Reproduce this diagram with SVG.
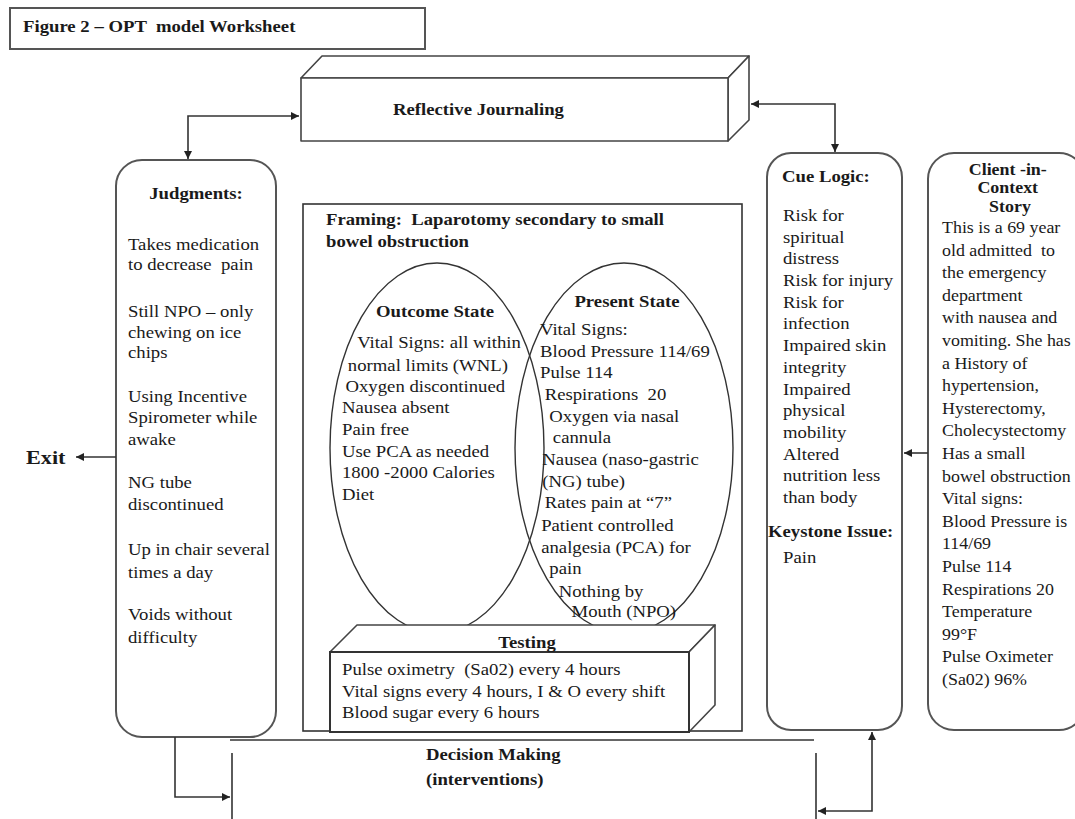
<svg xmlns="http://www.w3.org/2000/svg" width="1075" height="819" viewBox="0 0 1075 819">
<defs>
<style>
.t{font-family:"Liberation Serif","Times New Roman",serif;font-size:16px;fill:#1a1a1a}
.b{font-weight:bold}
.m{text-anchor:middle}
.box{fill:#fff;stroke:#555;stroke-width:2}
.face{fill:#fff;stroke:#444;stroke-width:1.6;stroke-linejoin:round}
.ell{fill:none;stroke:#333;stroke-width:1.4}
.ln{fill:none;stroke:#333;stroke-width:1.6}
</style>
<marker id="ah" viewBox="0 0 10 10" refX="10" refY="5" markerWidth="9" markerHeight="8" orient="auto-start-reverse" markerUnits="userSpaceOnUse">
<path d="M0,0 L10,5 L0,10 z" fill="#222"/>
</marker>
</defs>
<rect width="1075" height="819" fill="#fff"/>

<g id="title">
<rect x="10" y="8" width="415" height="41" fill="#fff" stroke="#555" stroke-width="2"/>
<text class="t b" transform="translate(23,0) scale(1.17,1)"><tspan x="0" y="32" xml:space="preserve">Figure 2 – OPT  model Worksheet</tspan></text>
</g>

<g id="reflective">
<polygon class="face" points="301,78 322,56 749,56 728,78"/>
<polygon class="face" points="728,78 749,56 749,120 728,141"/>
<rect class="face" x="301" y="78" width="427" height="63"/>
<text class="t b" transform="translate(393,0) scale(1.17,1)"><tspan x="0" y="115">Reflective Journaling</tspan></text>
</g>

<g id="judgments">
<rect class="box" x="116" y="160" width="160" height="577" rx="26"/>
<text class="t b m" transform="translate(196,0) scale(1.17,1)"><tspan x="0" y="199">Judgments:</tspan></text>
<text class="t" transform="translate(128,0) scale(1.17,1)">
<tspan x="0" y="250">Takes medication</tspan>
<tspan x="0" y="270" xml:space="preserve">to decrease  pain</tspan>
<tspan x="0" y="317">Still NPO – only</tspan>
<tspan x="0" y="338">chewing on ice</tspan>
<tspan x="0" y="358">chips</tspan>
<tspan x="0" y="402">Using Incentive</tspan>
<tspan x="0" y="423">Spirometer while</tspan>
<tspan x="0" y="445">awake</tspan>
<tspan x="0" y="488">NG tube</tspan>
<tspan x="0" y="510">discontinued</tspan>
<tspan x="0" y="555">Up in chair several</tspan>
<tspan x="0" y="578">times a day</tspan>
<tspan x="0" y="620">Voids without</tspan>
<tspan x="0" y="643">difficulty</tspan>
</text>
</g>

<g id="exit">
<text class="t b" style="font-size:19px" transform="translate(26,0) scale(1.17,1)"><tspan x="0" y="464">Exit</tspan></text>
</g>

<g id="framing">
<rect x="303" y="204" width="439" height="527" fill="#fff" stroke="#333" stroke-width="1.6"/>
<text class="t b" transform="translate(326,0) scale(1.17,1)">
<tspan x="0" y="225" xml:space="preserve">Framing:  Laparotomy secondary to small</tspan>
<tspan x="0" y="247">bowel obstruction</tspan>
</text>
</g>

<g id="outcome">
<ellipse class="ell" cx="437" cy="448" rx="107" ry="185"/>
<text class="t b m" transform="translate(435,0) scale(1.17,1)"><tspan x="0" y="317">Outcome State</tspan></text>
<text class="t" transform="translate(342,0) scale(1.17,1)">
<tspan x="13" y="348">Vital Signs: all within</tspan>
<tspan x="5" y="371">normal limits (WNL)</tspan>
<tspan x="3" y="392">Oxygen discontinued</tspan>
<tspan x="0" y="413">Nausea absent</tspan>
<tspan x="0" y="435">Pain free</tspan>
<tspan x="0" y="457">Use PCA as needed</tspan>
<tspan x="0" y="478">1800 -2000 Calories</tspan>
<tspan x="0" y="500">Diet</tspan>
</text>
</g>

<g id="present">
<ellipse class="ell" cx="624" cy="448" rx="109" ry="185"/>
<text class="t b m" transform="translate(627,0) scale(1.17,1)"><tspan x="0" y="307">Present State</tspan></text>
<text class="t" transform="translate(540,0) scale(1.17,1)">
<tspan x="0" y="335">Vital Signs:</tspan>
<tspan x="0" y="357">Blood Pressure 114/69</tspan>
<tspan x="0" y="378">Pulse 114</tspan>
<tspan x="4" y="400" xml:space="preserve">Respirations  20</tspan>
<tspan x="8" y="422">Oxygen via nasal</tspan>
<tspan x="11" y="443">cannula</tspan>
<tspan x="2" y="465">Nausea (naso-gastric</tspan>
<tspan x="2" y="487">(NG) tube)</tspan>
<tspan x="4" y="508">Rates pain at “7”</tspan>
<tspan x="1" y="531">Patient controlled</tspan>
<tspan x="1" y="553">analgesia (PCA) for</tspan>
<tspan x="8" y="574">pain</tspan>
<tspan x="16" y="597">Nothing by</tspan>
<tspan x="27" y="617">Mouth (NPO)</tspan>
</text>
</g>

<g id="testing">
<polygon class="face" points="330,652 357,625 715,625 689,652"/>
<polygon class="face" points="689,652 715,625 715,705 689,732"/>
<rect x="330" y="652" width="359" height="80" fill="#fff" stroke="#333" stroke-width="2"/>
<text class="t b m" transform="translate(527,0) scale(1.17,1)"><tspan x="0" y="648">Testing</tspan></text>
<text class="t" transform="translate(342,0) scale(1.17,1)">
<tspan x="0" y="675" xml:space="preserve">Pulse oximetry  (Sa02) every 4 hours</tspan>
<tspan x="0" y="697">Vital signs every 4 hours, I &amp; O every shift</tspan>
<tspan x="0" y="718">Blood sugar every 6 hours</tspan>
</text>
</g>

<g id="decision">
<text class="t b" transform="translate(426,0) scale(1.17,1)">
<tspan x="0" y="760">Decision Making</tspan>
<tspan x="0" y="785">(interventions)</tspan>
</text>
</g>

<g id="cuelogic">
<rect class="box" x="767" y="153" width="135" height="577" rx="24"/>
<text class="t b" transform="translate(782,0) scale(1.17,1)"><tspan x="0" y="182">Cue Logic:</tspan></text>
<text class="t" transform="translate(783,0) scale(1.17,1)">
<tspan x="0" y="221">Risk for</tspan>
<tspan x="0" y="243">spiritual</tspan>
<tspan x="0" y="264">distress</tspan>
<tspan x="0" y="286">Risk for injury</tspan>
<tspan x="0" y="308">Risk for</tspan>
<tspan x="0" y="329">infection</tspan>
<tspan x="0" y="351">Impaired skin</tspan>
<tspan x="0" y="373">integrity</tspan>
<tspan x="0" y="395">Impaired</tspan>
<tspan x="0" y="416">physical</tspan>
<tspan x="0" y="438">mobility</tspan>
<tspan x="0" y="460">Altered</tspan>
<tspan x="0" y="481">nutrition less</tspan>
<tspan x="0" y="503">than body</tspan>
</text>
<text class="t b" transform="translate(768,0) scale(1.17,1)"><tspan x="0" y="537">Keystone Issue:</tspan></text>
<text class="t" transform="translate(783,0) scale(1.17,1)"><tspan x="0" y="563">Pain</tspan></text>
</g>

<g id="client">
<rect class="box" x="928" y="153" width="157" height="577" rx="26"/>
<text class="t b m" transform="translate(1010,0) scale(1.12,1)">
<tspan x="0" y="175">Client -in-</tspan>
<tspan x="0" y="193">Context</tspan>
<tspan x="0" y="212">Story</tspan>
</text>
<text class="t" transform="translate(942,0) scale(1.12,1)">
<tspan x="0" y="233">This is a 69 year</tspan>
<tspan x="0" y="255.6" xml:space="preserve">old admitted  to</tspan>
<tspan x="0" y="278.2">the emergency</tspan>
<tspan x="0" y="300.8">department</tspan>
<tspan x="0" y="323.4">with nausea and</tspan>
<tspan x="0" y="346">vomiting. She has</tspan>
<tspan x="0" y="368.6">a History of</tspan>
<tspan x="0" y="391.2">hypertension,</tspan>
<tspan x="0" y="413.8">Hysterectomy,</tspan>
<tspan x="0" y="436.4">Cholecystectomy</tspan>
<tspan x="0" y="459">Has a small</tspan>
<tspan x="0" y="481.6">bowel obstruction</tspan>
<tspan x="0" y="504.2">Vital signs:</tspan>
<tspan x="0" y="526.8">Blood Pressure is</tspan>
<tspan x="0" y="549.4">114/69</tspan>
<tspan x="0" y="572">Pulse 114</tspan>
<tspan x="0" y="594.6">Respirations 20</tspan>
<tspan x="0" y="617.2">Temperature</tspan>
<tspan x="0" y="639.8">99°F</tspan>
<tspan x="0" y="662.4">Pulse Oximeter</tspan>
<tspan x="0" y="685">(Sa02) 96%</tspan>
</text>
</g>

<g id="connectors">
<path class="ln" d="M188,159 V116 H299" marker-start="url(#ah)" marker-end="url(#ah)"/>
<path class="ln" d="M751,104 H835 V152" marker-start="url(#ah)" marker-end="url(#ah)"/>
<path class="ln" d="M116,457 H76" marker-end="url(#ah)"/>
<path class="ln" d="M928,453 H904" marker-end="url(#ah)"/>
<path class="ln" d="M175,737 V797 H230" marker-end="url(#ah)"/>
<path class="ln" d="M232,753 V819"/>
<path class="ln" d="M230,740 H814"/>
<path class="ln" d="M816,753 V819"/>
<path class="ln" d="M818,811 H872 V732" marker-start="url(#ah)" marker-end="url(#ah)"/>
</g>
</svg>
